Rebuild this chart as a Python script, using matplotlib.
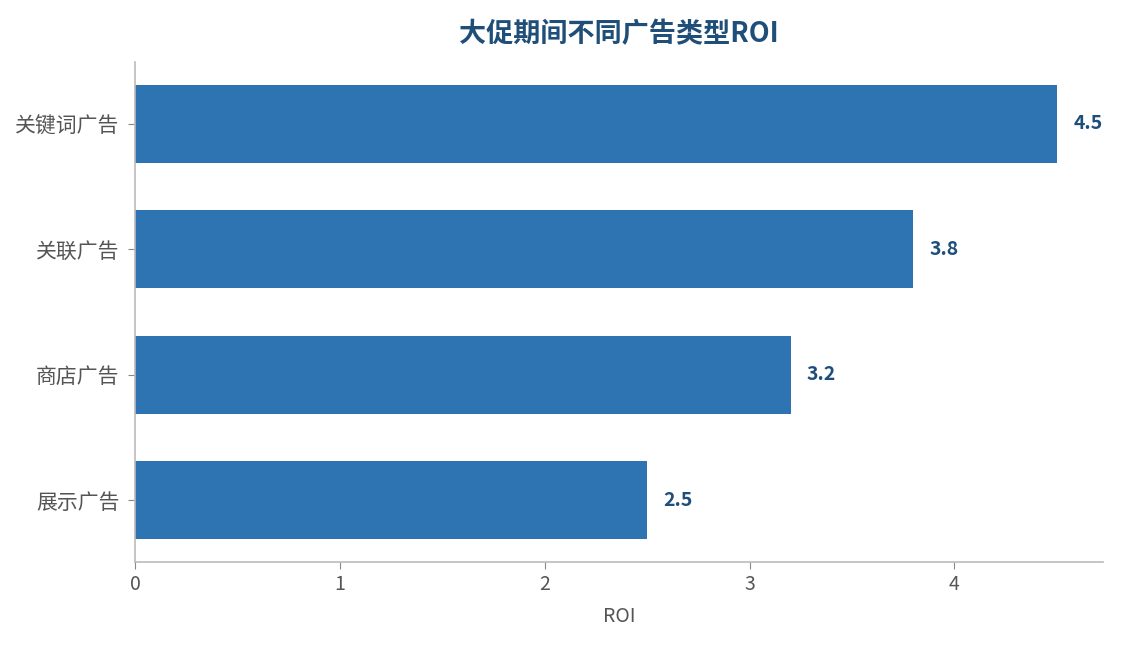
import matplotlib
matplotlib.use("Agg")
import matplotlib.pyplot as plt

plt.rcParams['font.family'] = ['Noto Sans CJK SC', 'DejaVu Sans']

# Data
categories = ["展示广告", "商店广告", "关联广告", "关键词广告"]
roi = [2.5, 3.2, 3.8, 4.5]

bar_color = "#2E73B2"
title_color = "#1F4E79"
text_gray = "#555555"

fig = plt.figure(figsize=(11.22, 6.45), dpi=100)
ax = fig.add_axes([0.1203, 0.1287, 0.8627, 0.7752])

bars = ax.barh(categories, roi, height=0.62, color=bar_color)
ax.set_xlim(0, max(roi) * 1.05)

for b, v in zip(bars, roi):
    ax.text(b.get_width() + 0.08, b.get_y() + b.get_height() / 2, f"{v:.1f}",
            va="center", ha="left", fontsize=14, fontweight="bold", color=title_color)

ax.set_title("大促期间不同广告类型ROI", fontsize=19.5, fontweight="bold",
             color=title_color, pad=14)
ax.set_xlabel("ROI", fontsize=14, color=text_gray, labelpad=8)

for s in ["top", "right"]:
    ax.spines[s].set_visible(False)
for s in ["left", "bottom"]:
    ax.spines[s].set_color("#bbbbbb")
    ax.spines[s].set_linewidth(1.2)
ax.tick_params(axis="y", colors=text_gray, labelsize=15, length=5, pad=6)
ax.tick_params(axis="x", colors=text_gray, labelsize=14, length=5)
ax.tick_params(axis="both", color="#888888")
ax.set_xticks([0, 1, 2, 3, 4])

fig.savefig("out.png", dpi=100)
